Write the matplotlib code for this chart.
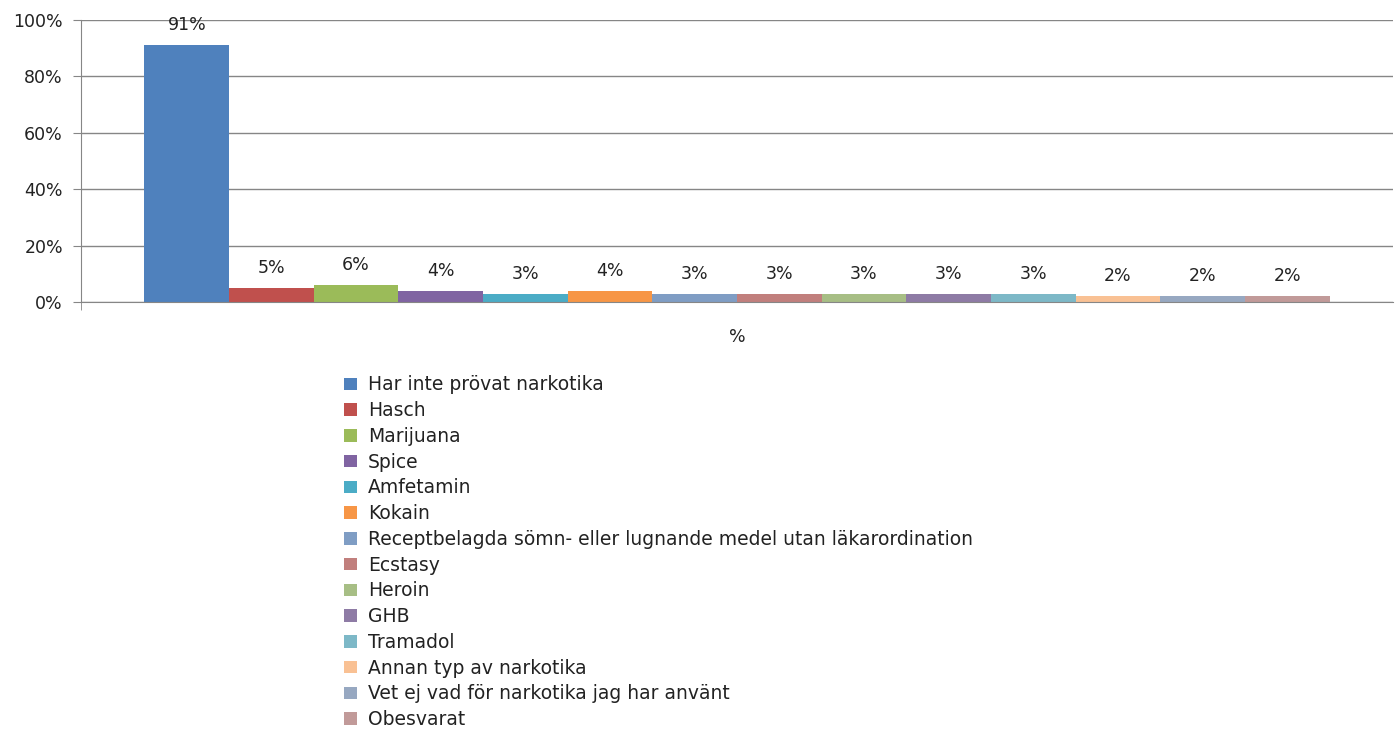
import matplotlib.pyplot as plt
from matplotlib.patches import Patch
from matplotlib.ticker import FixedLocator

plt.rcParams['font.family'] = ['DejaVu Sans']

categories = [
    'Har inte prövat narkotika', 'Hasch', 'Marijuana', 'Spice', 'Amfetamin',
    'Kokain', 'Receptbelagda sömn- eller lugnande medel utan läkarordination',
    'Ecstasy', 'Heroin', 'GHB', 'Tramadol', 'Annan typ av narkotika',
    'Vet ej vad för narkotika jag har använt', 'Obesvarat',
]
values = [91, 5, 6, 4, 3, 4, 3, 3, 3, 3, 3, 2, 2, 2]
colors = [
    '#4F81BD', '#C0504D', '#9BBB59', '#8064A2', '#4BACC6', '#F79646',
    '#7F9DC4', '#C17F7D', '#A7BE85', '#8E7BA5', '#7DB8C7', '#F9C194',
    '#97A8C1', '#C19A99',
]

fig = plt.figure(figsize=(13.95, 7.29), dpi=100)
W, H = 1395, 729
ax = fig.add_axes([81 / W, 1 - 302 / H, (1393 - 81) / W, (302 - 20) / H])

gap = 0.75
for i, (v, c) in enumerate(zip(values, colors)):
    x = gap + i + 0.5
    ax.bar(x, v, width=1.0, color=c, edgecolor='none', zorder=3)
    ax.annotate(f'{v}%', (x, v), xytext=(0, 11), textcoords='offset pixels',
                ha='center', va='bottom', fontsize=12.5, color='#222222')

ax.set_xlim(0, len(values) + 2 * gap)
ax.set_ylim(0, 100)
ax.set_yticks(range(0, 101, 20))
ax.set_yticklabels([f'{t}%' for t in range(0, 101, 20)], fontsize=12.5, color='#222222')
ax.set_xticks([(len(values) + 2 * gap) / 2])
ax.set_xticklabels(['%'], fontsize=12.5, color='#222222')
ax.tick_params(axis='x', length=0, pad=19)
ax.xaxis.set_minor_locator(FixedLocator([0]))
ax.tick_params(axis='x', which='minor', length=6, color='#868686')
ax.tick_params(axis='y', length=6, color='#868686', pad=7)
ax.grid(axis='y', color='#868686', linewidth=1, zorder=0)
for s in ['top', 'right']:
    ax.spines[s].set_visible(False)
ax.spines['left'].set_color('#868686')
ax.spines['bottom'].set_color('#868686')
ax.spines['bottom'].set_zorder(4)

handles = [Patch(facecolor=c, edgecolor='none') for c in colors]
fig.legend(handles, categories, loc='upper left',
           bbox_to_anchor=(335 / W, 1 - 366 / H), frameon=False,
           fontsize=13.5, handlelength=0.65, handleheight=0.65,
           handletextpad=0.6, labelspacing=0.36, borderpad=0,
           labelcolor='#222222')

fig.savefig('out.png', dpi=100)
